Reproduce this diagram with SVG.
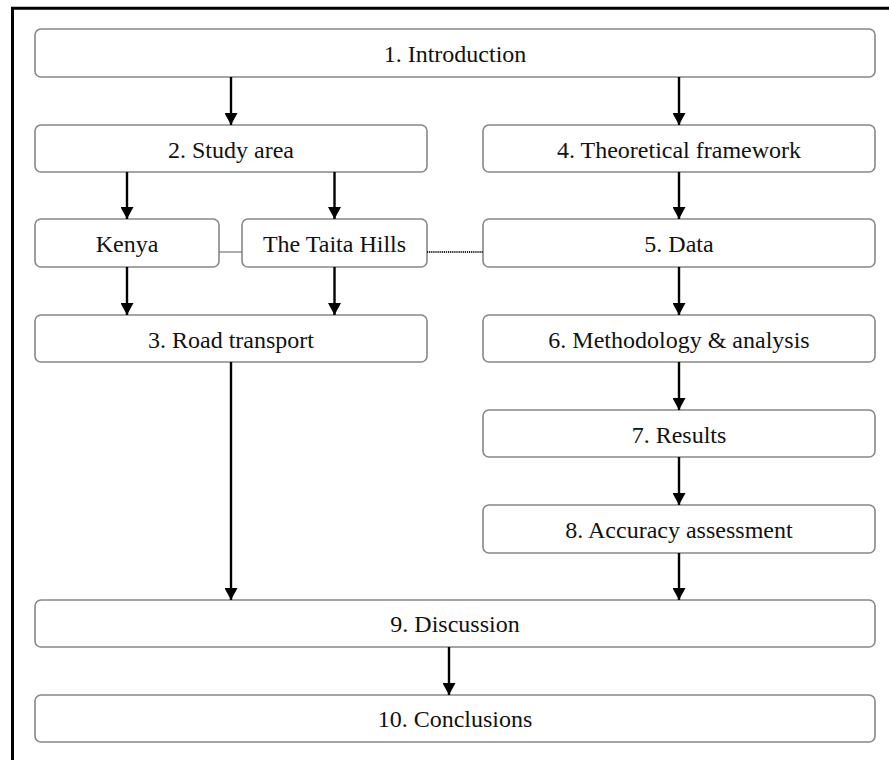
<svg xmlns="http://www.w3.org/2000/svg" width="889" height="760" viewBox="0 0 889 760">
<style>
.box{fill:#fff;stroke:#888;stroke-width:1.6}
.lbl{font-family:"Liberation Serif","Times New Roman",serif;font-size:24px;fill:#111;text-anchor:middle}
.arr{stroke:#000;stroke-width:2.4;fill:none}
</style>
<defs>
<marker id="ah" markerUnits="userSpaceOnUse" markerWidth="12" markerHeight="13" refX="12" refY="6.5" orient="auto">
<path d="M0,0 L12,6.5 L0,13 z" fill="#000"/>
</marker>
</defs>
<rect width="889" height="760" fill="#fff"/>
<path d="M12.5,760 V8.2 H889" fill="none" stroke="#000" stroke-width="3"/>

<g id="n1"><rect class="box" x="35" y="29" width="840" height="48" rx="6"/><text class="lbl" x="455" y="61.5">1. Introduction</text></g>
<g id="n2"><rect class="box" x="35" y="125" width="392" height="47" rx="6"/><text class="lbl" x="231" y="157.5">2. Study area</text></g>
<g id="n4"><rect class="box" x="483" y="125" width="392" height="47" rx="6"/><text class="lbl" x="679" y="157.5">4. Theoretical framework</text></g>
<g id="kenya"><rect class="box" x="35" y="219" width="184" height="48" rx="6"/><text class="lbl" x="127" y="251.5">Kenya</text></g>
<g id="taita"><rect class="box" x="242" y="219" width="185" height="48" rx="6"/><text class="lbl" x="334.5" y="251.5">The Taita Hills</text></g>
<g id="n5"><rect class="box" x="483" y="219" width="392" height="48" rx="6"/><text class="lbl" x="679" y="251.5">5. Data</text></g>
<g id="n3"><rect class="box" x="35" y="315" width="392" height="47" rx="6"/><text class="lbl" x="231" y="347.5">3. Road transport</text></g>
<g id="n6"><rect class="box" x="483" y="315" width="392" height="47" rx="6"/><text class="lbl" x="679" y="347.5">6. Methodology &amp; analysis</text></g>
<g id="n7"><rect class="box" x="483" y="410" width="392" height="47" rx="6"/><text class="lbl" x="679" y="442.5">7. Results</text></g>
<g id="n8"><rect class="box" x="483" y="505" width="392" height="48" rx="6"/><text class="lbl" x="679" y="537.5">8. Accuracy assessment</text></g>
<g id="n9"><rect class="box" x="35" y="600" width="840" height="47" rx="6"/><text class="lbl" x="455" y="632">9. Discussion</text></g>
<g id="n10"><rect class="box" x="35" y="695" width="840" height="47" rx="6"/><text class="lbl" x="455" y="727">10. Conclusions</text></g>

<g id="connectors">
<line class="arr" x1="231" y1="77" x2="231" y2="125" marker-end="url(#ah)"/>
<line class="arr" x1="679" y1="77" x2="679" y2="125" marker-end="url(#ah)"/>
<line class="arr" x1="127" y1="172" x2="127" y2="219" marker-end="url(#ah)"/>
<line class="arr" x1="334.5" y1="172" x2="334.5" y2="219" marker-end="url(#ah)"/>
<line class="arr" x1="127" y1="267" x2="127" y2="315" marker-end="url(#ah)"/>
<line class="arr" x1="334.5" y1="267" x2="334.5" y2="315" marker-end="url(#ah)"/>
<line class="arr" x1="679" y1="172" x2="679" y2="219" marker-end="url(#ah)"/>
<line class="arr" x1="679" y1="267" x2="679" y2="315" marker-end="url(#ah)"/>
<line class="arr" x1="679" y1="362" x2="679" y2="410" marker-end="url(#ah)"/>
<line class="arr" x1="679" y1="457" x2="679" y2="505" marker-end="url(#ah)"/>
<line class="arr" x1="679" y1="553" x2="679" y2="600" marker-end="url(#ah)"/>
<line class="arr" x1="231" y1="362" x2="231" y2="600" marker-end="url(#ah)"/>
<line class="arr" x1="449" y1="647" x2="449" y2="695" marker-end="url(#ah)"/>
<line x1="219" y1="252" x2="242" y2="252" stroke="#777" stroke-width="1.2"/>
<line x1="427" y1="252" x2="483" y2="252" stroke="#222" stroke-width="2" stroke-dasharray="1.2,0.9"/>
</g>
</svg>
